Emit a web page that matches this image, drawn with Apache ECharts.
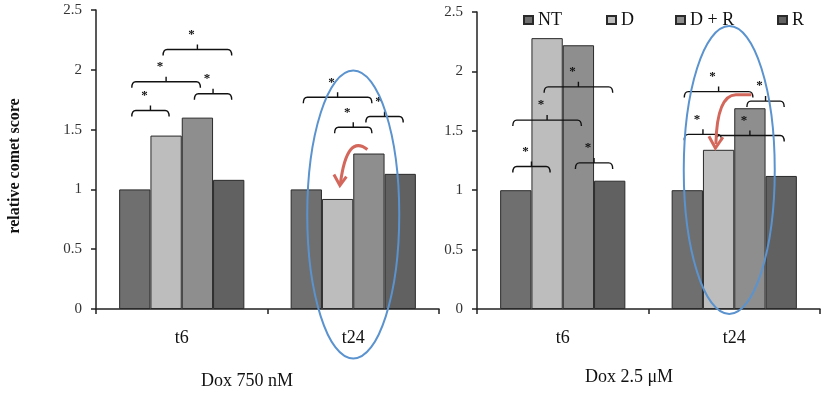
<!DOCTYPE html>
<html><head><meta charset="utf-8">
<script src="https://cdn.jsdelivr.net/npm/echarts@6/dist/echarts.min.js"></script>
<style>html,body{margin:0;padding:0;background:#fff}#c{width:824px;height:394px}</style>
</head><body><div id="c"></div>
<script>
// ---- data ----
const categories = ['t6', 't24'];
const seriesNames = ['NT', 'D', 'D + R', 'R'];
const left_NT = [1.00, 1.00];
const left_D = [1.45, 0.92];
const left_DR = [1.60, 1.30];
const left_R = [1.08, 1.13];
const right_NT = [1.00, 1.00];
const right_D = [2.28, 1.34];
const right_DR = [2.22, 1.69];
const right_R = [1.08, 1.12];
const yTicks = [0, 0.5, 1, 1.5, 2, 2.5];
const panelTitles = ['Dox 750 nM', 'Dox 2.5 μM'];
const yAxisTitle = 'relative comet score';
// significance brackets: [panel, category, fromBar, toBar, level]
const brackets = [
  [0, 0, 0, 1, 1.66], [0, 0, 0, 2, 1.90], [0, 0, 1, 3, 2.17], [0, 0, 2, 3, 1.80],
  [0, 1, 0, 2, 1.77], [0, 1, 1, 2, 1.52], [0, 1, 2, 3, 1.61],
  [1, 0, 0, 1, 1.20], [1, 0, 2, 3, 1.23], [1, 0, 0, 2, 1.59], [1, 0, 1, 3, 1.87],
  [1, 1, 0, 2, 1.83], [1, 1, 2, 3, 1.75], [1, 1, 0, 1, 1.47], [1, 1, 1, 3, 1.46]
];

// ---- chart ----
const FONT = '"Liberation Serif", "Times New Roman", serif';
const colors = ['#6f6f6f', '#bdbdbd', '#8e8e8e', '#616161'];
const panels = [[left_NT, left_D, left_DR, left_R], [right_NT, right_D, right_DR, right_R]];
const GAP = 0.27;

const chart = echarts.init(document.getElementById('c'), null, {renderer: 'canvas'});

const grids = [
  {left: 96, right: 385, top: 10, bottom: 85},
  {left: 477, right: 4, top: 12, bottom: 85}
];
const xAxes = grids.map((g, i) => ({
  type: 'category', gridIndex: i, data: categories,
  axisLine: {lineStyle: {color: '#222', width: 1.5}},
  axisTick: {show: true, interval: 0, length: 5, inside: false, lineStyle: {color: '#222', width: 1.5}},
  axisLabel: {margin: 20, fontFamily: FONT, fontSize: 18, color: '#111'},
  splitLine: {show: false}
}));
const yAxes = grids.map((g, i) => ({
  type: 'value', gridIndex: i, min: yTicks[0], max: yTicks[yTicks.length - 1],
  interval: yTicks[1] - yTicks[0],
  axisLine: {show: true, lineStyle: {color: '#222', width: 1.5}},
  axisTick: {show: true, length: 5, lineStyle: {color: '#222', width: 1.5}},
  axisLabel: {margin: 14, fontFamily: FONT, fontSize: 15, color: '#333',
    formatter: v => String(v)},
  splitLine: {show: false}
}));
const series = [];
panels.forEach((vals, p) => {
  vals.forEach((arr, k) => {
    series.push({
      type: 'bar', name: seriesNames[k], xAxisIndex: p, yAxisIndex: p, data: arr,
      barGap: '0%', barCategoryGap: (GAP * 100) + '%',
      itemStyle: {color: colors[k], borderColor: '#2a2a2a', borderWidth: 1},
      emphasis: {disabled: true}, animation: false
    });
  });
});
const legendLefts = [523, 606, 675, 777];
const legends = seriesNames.map((n, i) => ({
  data: [n], left: legendLefts[i], top: 11, padding: 0, itemWidth: 9, itemHeight: 8,
  icon: 'rect', selectedMode: false,
  textStyle: {fontFamily: FONT, fontSize: 18, color: '#111'}
}));

chart.setOption({
  animation: false,
  backgroundColor: '#fff',
  grid: grids, xAxis: xAxes, yAxis: yAxes, series: series, legend: legends
});

// ---- annotations computed from the axes ----
function catX(p, c) { return chart.convertToPixel({xAxisIndex: p}, categories[c]); }
function yPix(p, v) { return chart.convertToPixel({yAxisIndex: p}, v); }
function barX(p, c, b) {
  const band = catX(p, 1) - catX(p, 0);
  const bw = band * (1 - GAP) / 4;
  return catX(p, c) + (b - 1.5) * bw;
}
const g = [];
brackets.forEach(([p, c, a, b, lv]) => {
  const x1 = barX(p, c, a) - 3, x2 = barX(p, c, b) + 3, y = yPix(p, lv);
  const mid = (x1 + x2) / 2;
  g.push({type: 'path',
    shape: {pathData: `M${x1},${y + 6} Q${x1},${y} ${x1 + 4},${y} L${x2 - 4},${y} Q${x2},${y} ${x2},${y + 6} M${mid},${y} L${mid},${y - 5}`},
    style: {fill: null, stroke: '#111', lineWidth: 1.4}});
  g.push({type: 'text', x: mid - 6, y: y - 15,
    style: {text: '*', font: 'bold 13px ' + FONT, fill: '#111', align: 'center', verticalAlign: 'middle'}});
});
// blue ellipses around t24
[[0, 0.79, 0, 46], [1, 1.17, -5, 45.5]].forEach(([p, cv, dx, rx]) => {
  g.push({type: 'ellipse',
    shape: {cx: catX(p, 1) + dx, cy: yPix(p, cv), rx: rx, ry: 144},
    style: {fill: null, stroke: '#5b93cf', lineWidth: 2}});
});
// red arrows
(function () {
  const ax = barX(0, 1, 2), ay = yPix(0, left_DR[1]);
  g.push({type: 'path',
    shape: {pathData: `M${ax - 1.5},${ay - 4} Q${ax - 22},${ay - 20} ${ax - 28.5},${ay + 30}`},
    style: {fill: null, stroke: '#d4675c', lineWidth: 3}});
  g.push({type: 'polyline',
    shape: {points: [[ax - 35, ay + 21], [ax - 29, ay + 32], [ax - 22.5, ay + 23]]},
    style: {fill: null, stroke: '#d4675c', lineWidth: 3, lineJoin: 'miter'}});
})();
(function () {
  const ax = barX(1, 1, 2), ay = yPix(1, right_DR[1]);
  g.push({type: 'path',
    shape: {pathData: `M${ax + 1.5},${ay - 13.5} L${ax - 14},${ay - 13.5} Q${ax - 33},${ay - 13} ${ax - 34},${ay + 36}`},
    style: {fill: null, stroke: '#d4675c', lineWidth: 3}});
  g.push({type: 'polyline',
    shape: {points: [[ax - 41, ay + 28], [ax - 34.5, ay + 40], [ax - 27, ay + 29]]},
    style: {fill: null, stroke: '#d4675c', lineWidth: 3, lineJoin: 'miter'}});
})();
// texts
g.push({type: 'text', x: 15, y: 166, rotation: Math.PI / 2,
  style: {text: yAxisTitle, font: 'bold 16px ' + FONT, fill: '#111', align: 'center', verticalAlign: 'middle'}});
g.push({type: 'text', x: 247, y: 381,
  style: {text: panelTitles[0], font: '18px ' + FONT, fill: '#111', align: 'center', verticalAlign: 'middle'}});
g.push({type: 'text', x: 629, y: 377,
  style: {text: panelTitles[1], font: '18px ' + FONT, fill: '#111', align: 'center', verticalAlign: 'middle'}});

series.push({
  type: 'custom', coordinateSystem: 'none', data: [0], z: 10, silent: true, clip: false,
  renderItem: function () { return {type: 'group', children: g}; }
});
chart.setOption({series: series});
</script>
</body></html>
